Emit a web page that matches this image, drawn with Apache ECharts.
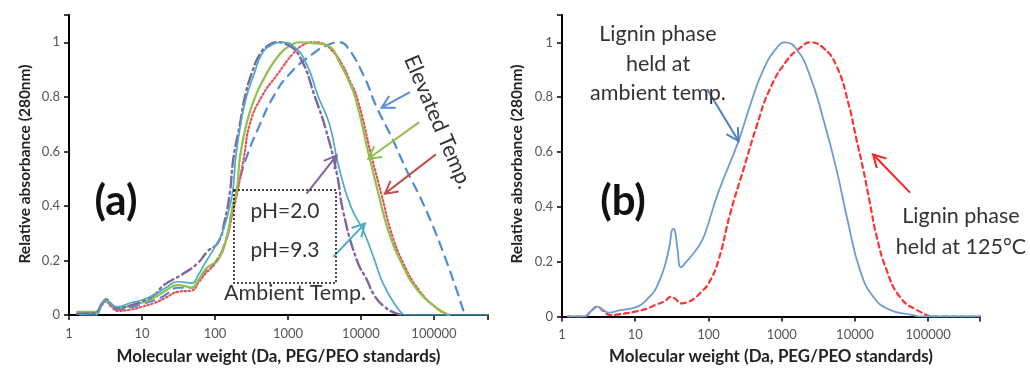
<!DOCTYPE html>
<html>
<head>
<meta charset="utf-8">
<script src="https://cdn.jsdelivr.net/npm/echarts@6/dist/echarts.min.js"></script>
<style>
html,body{margin:0;padding:0;background:#fff;}
#c{width:1030px;height:368px;}
</style>
</head>
<body>
<div id="c"></div>
<script>
// ---------- DATA (molecular weight [Da], relative absorbance) ----------
const yTicks = [0, 0.2, 0.4, 0.6, 0.8, 1];
const xTickLabels = ['1', '10', '100', '1000', '10000', '100000'];

// Panel (a)
const aBlueDashed = [[1.3,0.005],[2.3,0.008],[2.8,0.035],[3.2,0.055],[3.8,0.035],[4.7,0.02],[7,0.028],[10,0.04],[15,0.055],[20,0.07],[31,0.1],[48,0.1],[60,0.13],[73,0.16],[100,0.19],[140,0.27],[176,0.4],[198,0.457],[272,0.58],[415,0.70],[630,0.80],[1060,0.885],[2200,0.958],[3500,0.99],[5100,1.0],[6400,0.985],[10800,0.88],[16400,0.762],[26300,0.652],[42300,0.53],[64300,0.433],[97800,0.323],[141000,0.213],[205000,0.091],[252000,0.018],[270000,0]];
const aRedDotted = [[1.3,0.005],[2.3,0.01],[2.8,0.035],[3.2,0.05],[3.8,0.03],[4.7,0.015],[7,0.02],[10,0.03],[15,0.045],[20,0.06],[31,0.085],[48,0.09],[60,0.12],[73,0.15],[100,0.19],[140,0.27],[176,0.38],[205,0.457],[250,0.58],[300,0.70],[435,0.80],[730,0.885],[1170,0.958],[1600,0.99],[2200,1.0],[3000,0.995],[4000,0.97],[5500,0.92],[7000,0.86],[9000,0.79],[14000,0.58],[19500,0.433],[25500,0.31],[38000,0.19],[63000,0.09],[115000,0.02],[165000,0]];
const aGreen = [[1.3,0.012],[2.3,0.012],[2.8,0.04],[3.2,0.058],[3.7,0.04],[4.5,0.025],[6,0.03],[10,0.045],[15,0.065],[20,0.085],[31,0.11],[40,0.105],[48,0.1],[60,0.13],[73,0.165],[90,0.185],[110,0.2],[140,0.27],[176,0.4],[200,0.46],[220,0.58],[270,0.70],[355,0.80],[510,0.885],[780,0.958],[1100,0.99],[1450,1.0],[2200,0.997],[3700,0.985],[5000,0.93],[6500,0.87],[8300,0.80],[13000,0.58],[17800,0.433],[23600,0.31],[36000,0.19],[60000,0.09],[110000,0.025],[158000,0]];
const aPurple = [[1.3,0.005],[2.3,0.008],[2.8,0.04],[3.2,0.058],[3.8,0.04],[4.5,0.025],[7,0.035],[10,0.05],[15,0.075],[20,0.11],[36,0.15],[58,0.19],[80,0.235],[110,0.265],[137,0.35],[160,0.45],[180,0.58],[220,0.70],[257,0.80],[318,0.885],[415,0.958],[550,0.99],[700,1.0],[1000,0.99],[1500,0.94],[2340,0.80],[3300,0.68],[4660,0.52],[5700,0.38],[8800,0.2],[12000,0.13],[15000,0.075],[20000,0.035],[31000,0.005],[40000,0]];
const aTeal = [[1.4,0],[2.3,0],[2.8,0.035],[3.2,0.058],[3.8,0.04],[4.6,0.03],[7,0.045],[10,0.055],[15,0.075],[20.6,0.098],[31,0.122],[48,0.117],[60,0.15],[73,0.19],[100,0.25],[125,0.30],[160,0.40],[176,0.457],[193,0.58],[225,0.70],[270,0.80],[345,0.885],[440,0.958],[600,0.99],[820,1.0],[1200,0.985],[1800,0.92],[2600,0.80],[3700,0.70],[4900,0.55],[7200,0.40],[10700,0.31],[14800,0.213],[20000,0.117],[30700,0.03],[37000,0.005],[40000,0],[550000,0]];

// Panel (b)
const bAmbient = [[1.2,0],[2.0,0],[2.5,0.02],[3.0,0.036],[3.6,0.025],[4.4,0.014],[6,0.022],[10,0.033],[13,0.05],[15,0.067],[18,0.09],[20.6,0.12],[25,0.18],[29,0.25],[33,0.32],[35,0.31],[38,0.24],[42,0.18],[50,0.2],[58,0.22],[75,0.26],[89,0.30],[135,0.45],[257,0.64],[370,0.77],[560,0.90],[855,0.98],[1110,1.0],[1600,0.975],[2440,0.877],[3700,0.72],[5600,0.536],[8100,0.34],[11700,0.17],[17800,0.072],[30000,0.024],[62000,0.005],[80000,0],[510000,0]];
const b125C = [[1.2,0],[2.0,0],[2.5,0.02],[3.05,0.036],[3.6,0.022],[4.6,0.005],[6,0.008],[10,0.018],[15,0.03],[18.6,0.042],[25,0.055],[31,0.072],[35,0.065],[43,0.048],[55,0.055],[65,0.067],[80,0.09],[100,0.12],[135,0.2],[199,0.378],[300,0.536],[455,0.695],[690,0.83],[1170,0.933],[1780,0.98],[2440,1.0],[3700,0.98],[5600,0.914],[8100,0.78],[10500,0.646],[13000,0.536],[16000,0.414],[19800,0.292],[27000,0.17],[41000,0.072],[69700,0.024],[131000,0],[510000,0]];

// Arrow anchors in data coordinates [tail, tip]
const arrowsA = {
  blue:   [[46900,0.817],[19200,0.760]],
  green:  [[62900,0.707],[12600,0.573]],
  red:    [[106000,0.589],[21300,0.445]],
  teal:   [[4180,0.213],[11300,0.335]],
  purple: [[1800,0.445],[4650,0.585]]
};
const arrowsB = {
  blue: [[96,0.829],[257,0.64]],
  red:  [[56500,0.452],[17700,0.591]]
};

// ---------- CHART ----------
const FONT = 'Lato, "Noto Sans", sans-serif';
const chart = echarts.init(document.getElementById('c'), null, {renderer: 'canvas'});

function xAxis(gi, max) {
  return {
    type: 'log', logBase: 10, gridIndex: gi, min: 1, max: max,
    axisLine: {show: true, lineStyle: {color: '#000', width: 2}},
    axisTick: {show: true, length: 5, lineStyle: {color: '#000', width: 1.5}},
    axisLabel: {
      color: '#555', fontFamily: FONT, fontSize: 13, margin: 12,
      formatter: function (v) {
        const l = Math.log10(v);
        if (Math.abs(l - Math.round(l)) > 1e-6) return '';
        return xTickLabels[Math.round(l)] || '';
      }
    },
    splitLine: {show: false}, minorTick: {show: false}
  };
}
function yAxis(gi) {
  return {
    type: 'value', gridIndex: gi, min: 0, max: 1.1, interval: 0.2,
    axisLine: {show: true, lineStyle: {color: '#000', width: 2}},
    axisTick: {show: true, length: 5, lineStyle: {color: '#000', width: 1.5}},
    axisLabel: {
      color: '#555', fontFamily: FONT, fontSize: 13, margin: 9,
      formatter: function (v) {
        const hit = yTicks.find(t => Math.abs(t - v) < 1e-6);
        return hit === undefined ? '' : String(hit);
      }
    },
    splitLine: {show: false}
  };
}
function line(name, data, gi, color, width, type, z) {
  return {
    name: name, type: 'line', xAxisIndex: gi, yAxisIndex: gi, data: data,
    showSymbol: false, symbol: 'none', smooth: 0.5,
    lineStyle: {color: color, width: width, type: type, cap: 'round'},
    z: z, silent: true, animation: false
  };
}

const textStyleBase = {fontFamily: FONT, fill: '#333'};

chart.setOption({
  animation: false,
  backgroundColor: '#fff',
  grid: [
    {left: 69, top: 15, width: 419, height: 300},
    {left: 562, top: 15, width: 418, height: 301.5}
  ],
  xAxis: [xAxis(0, 550000), xAxis(1, 510000)],
  yAxis: [yAxis(0), yAxis(1)],
  series: [
    line('Elevated (blue)', aBlueDashed, 0, '#4F8AD8', 2.2, [9, 7], 2),
    line('Elevated (red)', aRedDotted, 0, '#E8505A', 2.2, [1.5, 2.5], 3),
    line('Elevated (green)', aGreen, 0, '#92C04F', 2.2, 'solid', 4),
    line('pH=2.0', aPurple, 0, '#8064A2', 2.4, [11, 4, 2, 4], 5),
    line('pH=9.3', aTeal, 0, '#4BACC6', 1.7, 'solid', 6),
    line('Held at 125°C', b125C, 1, '#FF3333', 2.2, [5, 4], 3),
    line('Held at ambient temp.', bAmbient, 1, '#6F9BD4', 1.8, 'solid', 4)
  ]
});

function arrowGroup(finder, pair, color) {
  const p0 = chart.convertToPixel(finder, pair[0]);
  const p1 = chart.convertToPixel(finder, pair[1]);
  const ang = Math.atan2(p1[1] - p0[1], p1[0] - p0[0]);
  const L = 14, a = 0.5;
  const h1 = [p1[0] - L * Math.cos(ang - a), p1[1] - L * Math.sin(ang - a)];
  const h2 = [p1[0] - L * Math.cos(ang + a), p1[1] - L * Math.sin(ang + a)];
  return [
    {type: 'line', shape: {x1: p0[0], y1: p0[1], x2: p1[0], y2: p1[1]}, style: {stroke: color, lineWidth: 2}, z: 20, silent: true},
    {type: 'polyline', shape: {points: [h1, p1, h2]}, style: {stroke: color, lineWidth: 2, fill: null}, z: 20, silent: true}
  ];
}

const fA = {xAxisIndex: 0, yAxisIndex: 0};
const fB = {xAxisIndex: 1, yAxisIndex: 1};
const arrowColorsA = {blue: '#5B8ED6', green: '#92C04F', red: '#C0504D', teal: '#4BACC6', purple: '#8064A2'};
const arrowColorsB = {blue: '#4F7FC0', red: '#FF2020'};
let graphics = [];
Object.keys(arrowsA).forEach(k => { graphics = graphics.concat(arrowGroup(fA, arrowsA[k], arrowColorsA[k])); });
Object.keys(arrowsB).forEach(k => { graphics = graphics.concat(arrowGroup(fB, arrowsB[k], arrowColorsB[k])); });

function txt(text, x, y, size, opts) {
  return Object.assign({
    type: 'text', x: x, y: y, z: 30, silent: true,
    style: Object.assign({}, textStyleBase, {text: text, fontSize: size, align: 'center', verticalAlign: 'middle'}, (opts && opts.style) || {})
  }, opts && opts.rotation !== undefined ? {rotation: opts.rotation} : {});
}

const ANN = 21.5;
graphics.push(
  // axis titles
  txt('Relative absorbance (280nm)', 25, 164, 15.5, {rotation: Math.PI / 2, style: {fontWeight: 'bold', fill: '#222'}}),
  txt('Relative absorbance (280nm)', 517, 164, 15.5, {rotation: Math.PI / 2, style: {fontWeight: 'bold', fill: '#222'}}),
  txt('Molecular weight (Da, PEG/PEO standards)', 278.5, 357, 16.9, {style: {fontWeight: 'bold', fill: '#222'}}),
  txt('Molecular weight (Da, PEG/PEO standards)', 771, 357, 16.9, {style: {fontWeight: 'bold', fill: '#222'}}),
  // panel labels
  txt('(a)', 116, 201, 42, {style: {fontWeight: 'bold', fill: '#111'}}),
  txt('(b)', 623, 201, 42, {style: {fontWeight: 'bold', fill: '#111'}}),
  // dotted box
  {type: 'rect', shape: {x: 234, y: 190, width: 102, height: 93}, style: {stroke: '#111', lineWidth: 1.5, fill: null, lineDash: [2, 2]}, z: 25, silent: true},
  txt('pH=2.0', 285, 211, 21),
  txt('pH=9.3', 285, 250, 21),
  txt('Ambient Temp.', 295, 293, ANN),
  txt('Elevated Temp.', 438, 122, ANN, {rotation: -67 * Math.PI / 180}),
  txt('Lignin phase\nheld at\nambient temp.', 658, 64, ANN, {style: {lineHeight: 29.5}}),
  txt('Lignin phase\nheld at 125°C', 961, 231.5, ANN, {style: {lineHeight: 31}})
);

chart.setOption({graphic: graphics});
</script>
</body>
</html>
